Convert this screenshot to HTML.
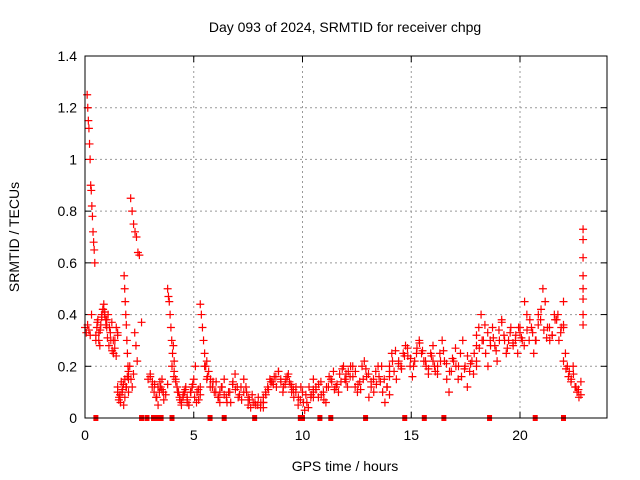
<!DOCTYPE html>
<html><head><meta charset="utf-8"><style>
body{margin:0;background:#fff}
svg{display:block;font-family:"Liberation Sans",sans-serif}
</style></head><body>
<svg id="chart" width="640" height="480" viewBox="0 0 640 480">
<rect width="640" height="480" fill="#fff"/>
<text x="345" y="32" font-size="14" text-anchor="middle">Day 093 of 2024, SRMTID for receiver chpg</text>
<text transform="translate(19,237) rotate(-90)" font-size="14" text-anchor="middle">SRMTID / TECUs</text>
<text x="345" y="471" font-size="14" text-anchor="middle">GPS time / hours</text>
<g id="grid"></g><g id="ticks"></g><g id="marks"></g>
<rect x="85" y="56" width="522" height="362" fill="none" stroke="#000" stroke-width="1"/>
</svg>
<script>
const xTicks=[0,5,10,15,20];
const yTicks=[0,0.2,0.4,0.6,0.8,1,1.2,1.4];
const yTickLabels=["0","0.2","0.4","0.6","0.8","1","1.2","1.4"];
// groups: [startHour, endHour, values...]
const groups=[
[0.0,0.3,0.35,0.33,0.36,0.34,0.32,0.4],
[0.1,0.45,1.25,1.2,1.15,1.12,1.06,1.0,0.9,0.88,0.82,0.78,0.72,0.68,0.65,0.6],
[0.5,1.0,0.3,0.35,0.38,0.33,0.28,0.36,0.4,0.42,0.44,0.41,0.38,0.35],
[1.0,1.5,0.38,0.4,0.35,0.3,0.26,0.25,0.3,0.35,0.33],
[1.5,1.9,0.12,0.08,0.06,0.1,0.13,0.15,0.12],
[1.8,2.0,0.55,0.5,0.45,0.4,0.36,0.3,0.25,0.2,0.15],
[2.0,2.4,0.18,0.2,0.15,0.12,0.17,0.33,0.28,0.22],
[2.1,2.5,0.85,0.8,0.75,0.72,0.7,0.64,0.63],
[2.6,2.6,0.37],
[2.9,3.2,0.15,0.17,0.14,0.13],
[3.3,3.6,0.08,0.05,0.1,0.12,0.15,0.1],
[3.8,4.1,0.5,0.47,0.45,0.4,0.35,0.3,0.25,0.28,0.22],
[4.1,4.7,0.18,0.15,0.12,0.1,0.07,0.05,0.08,0.1,0.12,0.06],
[4.7,5.3,0.08,0.05,0.1,0.12,0.15,0.2,0.1,0.07,0.12],
[5.3,5.6,0.44,0.4,0.35,0.3,0.25,0.2,0.15],
[5.6,6.2,0.22,0.18,0.15,0.12,0.1,0.14,0.08,0.06],
[6.2,7.5,0.1,0.12,0.15,0.08,0.1,0.06,0.14,0.17,0.12,0.09,0.07,0.1,0.12,0.08],
[7.5,8.2,0.05,0.04,0.06,0.05,0.08,0.06,0.04],
[8.2,9.5,0.08,0.1,0.12,0.15,0.14,0.16,0.12,0.18,0.15,0.1,0.13,0.16,0.14,0.12],
[9.5,10.5,0.1,0.08,0.12,0.05,0.07,0.1,0.03,0.06,0.12,0.09,0.15],
[10.5,12,0.1,0.12,0.08,0.14,0.1,0.06,0.12,0.15,0.18,0.12,0.1,0.14,0.2,0.17],
[12,14,0.14,0.18,0.2,0.16,0.12,0.1,0.14,0.2,0.22,0.16,0.08,0.12,0.15,0.18,0.2,0.14,0.1,0.06,0.12,0.16],
[14,16,0.2,0.25,0.18,0.15,0.22,0.2,0.25,0.28,0.24,0.2,0.16,0.22,0.27,0.3,0.25,0.22,0.2,0.17,0.25,0.28],
[16,18,0.22,0.18,0.2,0.25,0.3,0.22,0.15,0.1,0.18,0.22,0.2,0.15,0.25,0.3,0.2,0.12,0.18,0.22,0.25,0.2],
[18,20,0.28,0.35,0.4,0.3,0.25,0.2,0.3,0.35,0.28,0.22,0.3,0.38,0.32,0.25,0.3,0.35,0.28,0.3,0.25,0.33],
[20,22,0.35,0.3,0.45,0.4,0.3,0.35,0.25,0.3,0.4,0.38,0.5,0.45,0.35,0.3,0.32,0.4,0.38,0.3,0.35,0.45],
[22,22.8,0.35,0.25,0.2,0.18,0.15,0.2,0.12,0.1,0.08,0.14],
[22.9,22.9,0.73,0.69,0.62,0.55,0.5,0.46,0.4,0.36],
[0.5,1.5,0.32,0.37,0.3,0.34,0.39,0.42,0.4,0.36,0.31,0.28,0.33,0.37,0.3,0.27,0.24,0.32],
[1.5,2.0,0.1,0.07,0.09,0.14,0.11,0.05,0.08,0.12,0.16,0.1],
[3.0,3.8,0.16,0.12,0.1,0.08,0.12,0.14,0.11,0.07,0.09,0.13],
[4.0,5.3,0.2,0.16,0.14,0.1,0.08,0.06,0.09,0.11,0.07,0.05,0.1,0.13,0.08,0.06,0.11,0.09],
[5.5,8.2,0.2,0.16,0.12,0.14,0.1,0.08,0.12,0.09,0.06,0.1,0.13,0.11,0.08,0.12,0.15,0.1,0.07,0.09,0.06,0.05,0.04,0.06],
[8.2,10.5,0.06,0.09,0.11,0.14,0.13,0.16,0.18,0.14,0.12,0.15,0.17,0.13,0.11,0.1,0.08,0.12,0.06,0.09,0.04,0.08,0.11],
[10.5,14,0.08,0.11,0.13,0.09,0.07,0.12,0.16,0.14,0.11,0.13,0.17,0.19,0.15,0.12,0.16,0.2,0.18,0.13,0.11,0.15,0.19,0.17,0.14,0.1,0.13,0.16,0.2,0.15,0.12,0.09],
[14,18,0.18,0.22,0.26,0.21,0.19,0.24,0.27,0.23,0.2,0.25,0.29,0.26,0.22,0.19,0.24,0.2,0.17,0.22,0.26,0.21,0.18,0.23,0.27,0.2,0.16,0.19,0.24,0.21,0.17,0.22],
[18,22,0.32,0.27,0.3,0.36,0.33,0.28,0.31,0.26,0.34,0.37,0.3,0.27,0.33,0.29,0.32,0.35,0.31,0.28,0.34,0.38,0.33,0.3,0.36,0.42,0.34,0.31,0.35,0.32,0.38,0.4,0.33,0.36],
[22,22.8,0.22,0.19,0.16,0.14,0.17,0.12,0.11,0.09]
];
const zeroTimes=[0.5,2.6,2.85,3.15,3.35,3.5,4.0,5.75,6.4,7.8,9.9,10.0,10.8,11.3,12.9,14.7,15.6,16.5,18.6,20.7,22.0];
const NS="http://www.w3.org/2000/svg";
const X0=85,X1=607,Y0=418,Y1=56;
const xs=h=>X0+h/24*(X1-X0);
const ys=v=>Y0-v/1.4*(Y0-Y1);
function mk(t,a,p){const e=document.createElementNS(NS,t);for(const k in a)e.setAttribute(k,a[k]);p.appendChild(e);return e;}
const grid=document.getElementById('grid'),ticks=document.getElementById('ticks'),marks=document.getElementById('marks');
xTicks.forEach(t=>{const x=xs(t);
 if(t>0){const g=mk('line',{x1:x,x2:x,y1:Y1,y2:Y0,stroke:'#999','stroke-dasharray':'2,3'},grid);
 
 }
 const l=mk('text',{x:x,y:Y0+22,'font-size':14,'text-anchor':'middle'},ticks);l.textContent=t;
 
 
 mk('line',{x1:x,x2:x,y1:Y0,y2:Y0-6,stroke:'#000'},ticks);mk('line',{x1:x,x2:x,y1:Y1,y2:Y1+6,stroke:'#000'},ticks);
});
yTicks.forEach((v,i)=>{const y=ys(v);
 if(v>0&&v<1.4){const g=mk('line',{x1:X0,x2:X1,y1:y,y2:y,stroke:'#999','stroke-dasharray':'2,3'},grid);
 
 }
 const l=mk('text',{x:X0-8,y:y+5,'font-size':14,'text-anchor':'end'},ticks);l.textContent=yTickLabels[i];
 
 
 mk('line',{x1:X0,x2:X0+6,y1:y,y2:y,stroke:'#000'},ticks);mk('line',{x1:X1,x2:X1-6,y1:y,y2:y,stroke:'#000'},ticks);
});
function plus(x,y,c){const p=mk('path',{d:`M${x-4},${y}h8M${x},${y-4}v8`,stroke:c,'stroke-width':1.2,fill:'none'},marks);
 
 }
groups.forEach(g=>{const a=g[0],b=g[1],vals=g.slice(2),n=vals.length;
 vals.forEach((v,i)=>{const t=n>1?a+(b-a)*i/(n-1):a;plus(xs(t),ys(v),'#f00');});
});
zeroTimes.forEach(t=>{const r=mk('rect',{x:xs(t)-2.5,y:Y0-3,width:5,height:6,fill:'#f00'},marks);
 
 });
</script>
</body></html>
